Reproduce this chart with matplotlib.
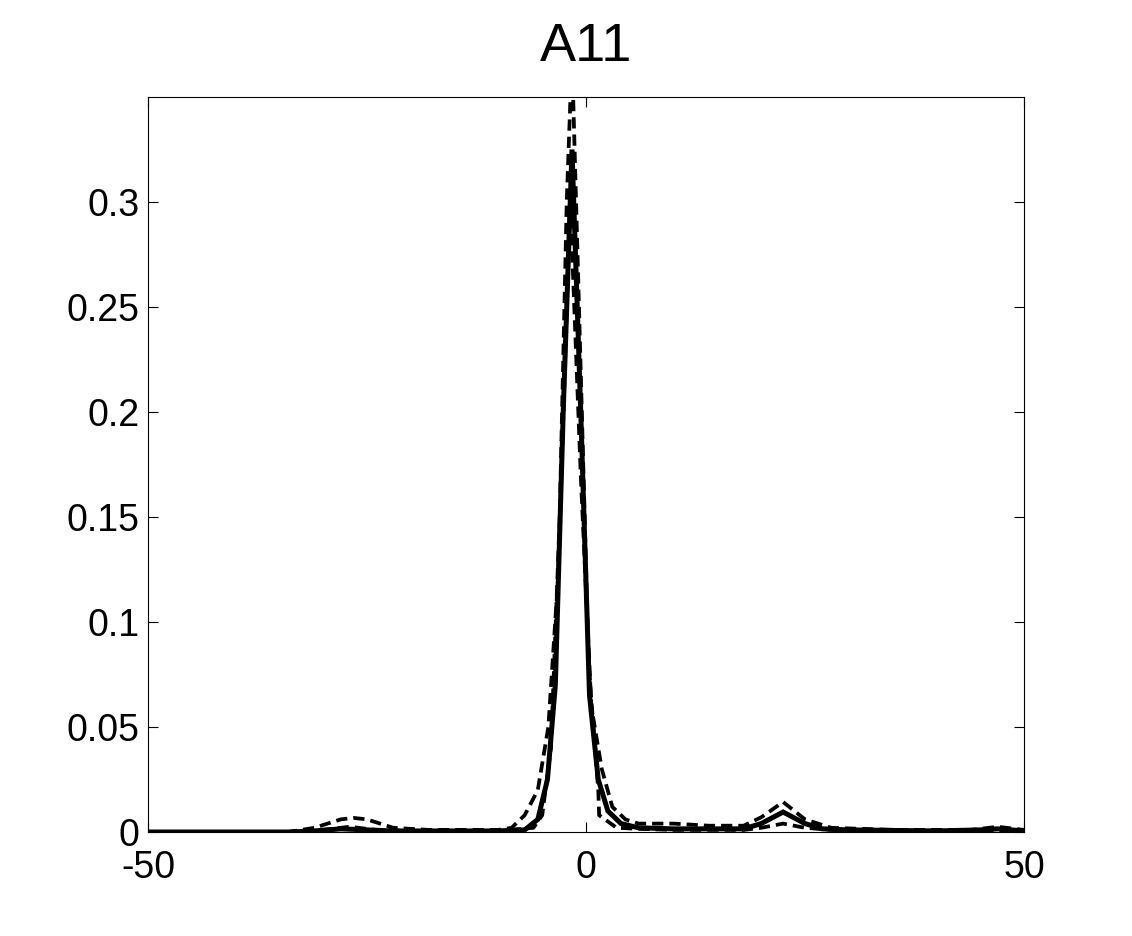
import matplotlib
matplotlib.use("Agg")
import matplotlib.pyplot as plt

title = "A11"

# Solid curve
x_solid = [-50, -34, -31, -28, -25, -22, -10, -7, -5.5, -4.4, -3.5, -2.6, -1.6, -0.6, 0.4, 1.4, 2.5,
           4, 6, 10, 18, 20, 22.5, 25, 27, 30, 40, 45, 47, 50]
y_solid = [0, 0, 0.0005, 0.0015, 0.001, 0.0005, 0.0005, 0.001, 0.006, 0.025, 0.07, 0.2, 0.325, 0.2,
           0.065, 0.025, 0.01, 0.004, 0.002, 0.0015, 0.0015, 0.004, 0.0095, 0.004, 0.0015, 0.001,
           0.0005, 0.001, 0.0015, 0.0005]

# Dashed curve 1 (wide base)
x_dash1 = [-50, -34, -31, -28, -26.5, -25, -22, -18, -10, -8.5, -7, -5.5, -4.3, -3.2, -1.8, -0.6,
           0.6, 1.8, 3, 4.5, 6, 10, 14, 18, 20, 22.5, 25, 28, 35, 44, 47, 50]
y_dash1 = [0, 0, 0.002, 0.006, 0.0067, 0.006, 0.002, 0.001, 0.001, 0.002, 0.008, 0.02, 0.05, 0.12,
           0.30, 0.17, 0.06, 0.03, 0.012, 0.006, 0.004, 0.004, 0.003, 0.003, 0.007, 0.0143, 0.006,
           0.002, 0.001, 0.001, 0.0025, 0.001]

# Dashed curve 2 (narrow, tallest)
x_dash2 = [-50, -34, -30, -27, -24, -20, -10, -6, -5, -4, -3, -2.2, -1.6, -0.8, 0.3, 1.4, 1.5, 3.5,
           6, 10, 18, 20, 22.5, 25, 28, 40, 50]
y_dash2 = [0, 0, 0.001, 0.0025, 0.001, 0.0005, 0.0005, 0.002, 0.008, 0.04, 0.15, 0.30, 0.37, 0.25,
           0.08, 0.02, 0.008, 0.002, 0.0015, 0.001, 0.001, 0.002, 0.004, 0.002, 0.001, 0.0005, 0]

x_ticks = [-50, 0, 50]
x_ticklabels = ["-50", "0", "50"]
y_ticks = [0, 0.05, 0.1, 0.15, 0.2, 0.25, 0.3]
y_ticklabels = ["0", "0.05", "0.1", "0.15", "0.2", "0.25", "0.3"]

plt.rcParams['font.family'] = ['Liberation Sans', 'DejaVu Sans']

fig = plt.figure(figsize=(11.32, 9.36), dpi=100)
ax = fig.add_axes([148 / 1132, 1 - 832 / 936, (1024 - 148) / 1132, (832 - 97) / 936])

dash = (0, (3.0, 1.6))
ax.plot(x_dash1, y_dash1, color='black', lw=2.7, linestyle=dash)
ax.plot(x_dash2, y_dash2, color='black', lw=2.7, linestyle=dash)
ax.plot(x_solid, y_solid, color='black', lw=3.6, solid_joinstyle='miter')

ax.set_xlim(-50, 50)
ax.set_ylim(0, 0.35)
ax.set_xticks(x_ticks)
ax.set_xticklabels(x_ticklabels)
ax.set_yticks(y_ticks)
ax.set_yticklabels(y_ticklabels)
ax.tick_params(direction='in', length=7, width=0.8, top=True, right=True,
               labelsize=27, pad=6)
ax.tick_params(axis='x', pad=13)
for s in ax.spines.values():
    s.set_linewidth(0.8)

ax.set_title(title, fontsize=39, pad=26)

fig.savefig("out.png", dpi=100)
